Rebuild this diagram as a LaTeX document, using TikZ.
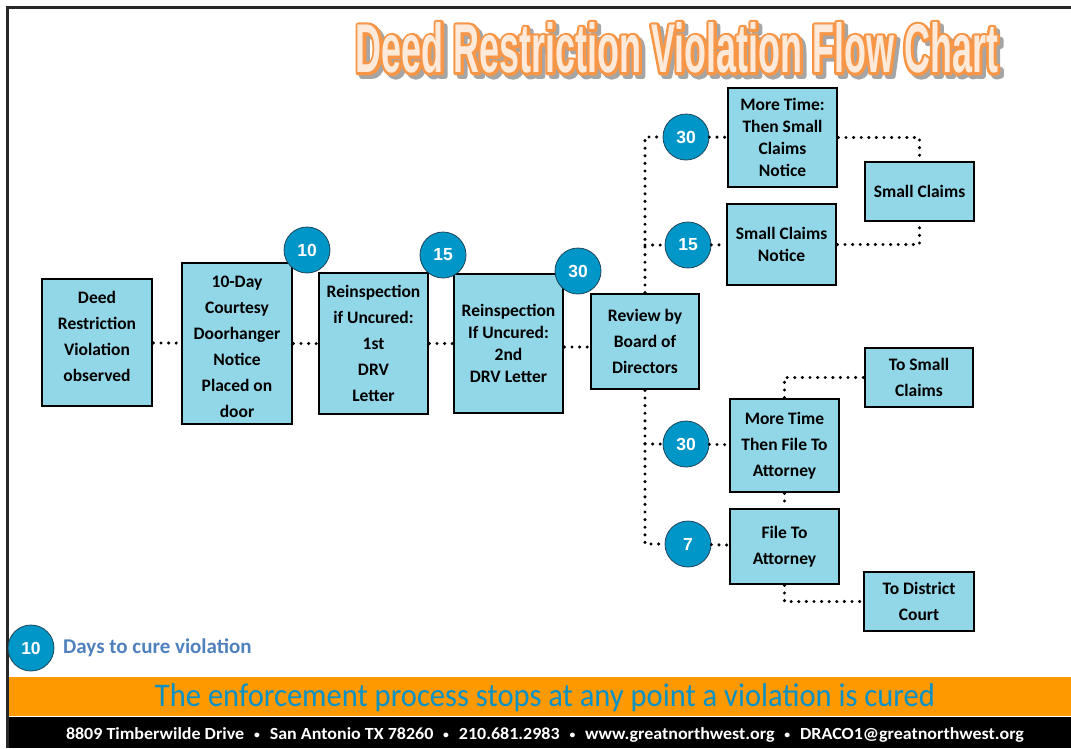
\documentclass[tikz,border=0pt]{standalone}
\usepackage{fontspec}
\usepackage{graphicx}
\setmainfont{Carlito}
\newfontfamily\numfont{Liberation Sans}
\newfontfamily\titlefont[FakeStretch=0.52]{Liberation Sans}
\newfontfamily\titlefontB[FakeStretch=0.52,FakeBold=8]{Liberation Sans}
\definecolor{boxfill}{RGB}{146,215,232}
\definecolor{circfill}{RGB}{0,150,199}
\definecolor{circline}{RGB}{30,70,90}
\definecolor{ttlorange}{RGB}{247,150,70}
\definecolor{ttlfill}{RGB}{253,234,218}
\definecolor{ttlshadow}{RGB}{165,165,165}
\definecolor{barorange}{RGB}{255,153,0}
\definecolor{bartext}{RGB}{10,145,198}
\definecolor{legtext}{RGB}{79,129,189}
\definecolor{framecol}{RGB}{40,40,40}
\newcommand\ttltext[1]{\resizebox{642pt}{!}{#1\bfseries\fontsize{70}{70}\selectfont Deed Restriction Violation Flow Chart}}
\newcommand\adsep{\hspace{0.55em}{\fontsize{11}{11}\selectfont\raisebox{1pt}{•}}\hspace{0.55em}}
\begin{document}
\begin{tikzpicture}[x=1pt,y=-1pt,
  stepbox/.style={draw=black,line width=2.8pt,fill=boxfill,inner sep=0pt,align=center,
    font=\bfseries\fontsize{17.5}{26}\selectfont},
  tight/.style={font=\bfseries\fontsize{17.5}{22}\selectfont},
  days/.style={circle,draw=circline,line width=0.8pt,fill=circfill,minimum size=46pt,inner sep=0pt,
    text=white,font=\numfont\bfseries\fontsize{17.5}{17.5}\selectfont},
  dots/.style={line width=3.4pt,line cap=round,dash pattern=on 0pt off 7.6pt}]
\useasboundingbox (0,0) rectangle (1071,748);
% frame
\draw[framecol,line width=3pt] (7,748) -- (7,7) -- (1071,7);
% title: shadow, orange outline, cream fill
\node[inner sep=0pt,text=ttlshadow] (shadow) at (680.5,51.5) {\special{pdf:literal 1 j}\ttltext{\titlefontB}};
\node[inner sep=0pt,text=ttlorange] (outline) at (677,48) {\special{pdf:literal 1 j}\ttltext{\titlefontB}};
\node[inner sep=0pt,text=ttlfill] (title) at (677,48) {\ttltext{\titlefont}};
% boxes
\node[stepbox,minimum width=110pt,minimum height=127pt] (A) at (97,342.5) {Deed\\Restriction\\Violation\\observed\\[-14pt]\mbox{}};
\node[stepbox,minimum width=110pt,minimum height=161pt] (B) at (237,343.5) {\mbox{}\\[-8pt]10-Day\\Courtesy\\Doorhanger\\Notice\\Placed on\\door};
\node[stepbox,minimum width=109pt,minimum height=141pt] (C) at (373.5,343.5) {Reinspection\\if Uncured:\\1st\\DRV\\Letter};
\node[stepbox,tight,minimum width=109pt,minimum height=139pt] (D) at (508.5,343.5) {Reinspection\\If Uncured:\\2nd\\DRV Letter};
\node[stepbox,minimum width=108pt,minimum height=95pt] (E) at (645,341.5) {Review by\\Board of\\Directors};
\node[stepbox,tight,minimum width=109pt,minimum height=99pt] (F) at (782.5,137.5) {More Time:\\Then Small\\Claims\\Notice};
\node[stepbox,tight,minimum width=109pt,minimum height=81pt] (G) at (781.5,244.5) {Small Claims\\Notice};
\node[stepbox,minimum width=109pt,minimum height=59pt] (H) at (919.5,191.5) {Small Claims};
\node[stepbox,minimum width=108pt,minimum height=59pt] (I) at (919,377.5) {To Small\\Claims};
\node[stepbox,minimum width=109pt,minimum height=93pt] (J) at (784.5,445.5) {More Time\\Then File To\\Attorney};
\node[stepbox,minimum width=109pt,minimum height=75pt] (K) at (784.5,546.5) {File To\\Attorney};
\node[stepbox,minimum width=110pt,minimum height=59pt] (L) at (919,601.5) {To District\\Court};
% day circles
\node[days] (c10) at (307,250) {10};
\node[days] (c15) at (443,255) {15};
\node[days] (c30) at (578,271) {30};
\node[days] (c30a) at (686,137) {30};
\node[days] (c15a) at (688,245) {15};
\node[days] (c30b) at (686,444) {30};
\node[days] (c7) at (688,544) {7};
% connectors
\draw[dots] (A) -- (B);
\draw[dots] (B) -- (C);
\draw[dots] (C) -- (D);
\draw[dots] (D.east |- 0,347) -- (E.west |- 0,347);
\draw[dots] (E.north) |- (c30a);
\draw[dots] (E.north |- c15a) -- (c15a);
\draw[dots] (c30a) -- (F);
\draw[dots] (c15a) -- (G);
\draw[dots] (E.south) |- (c7);
\draw[dots] (E.south |- c30b) -- (c30b);
\draw[dots] (c30b) -- (J);
\draw[dots] (c7) -- (K);
\draw[dots] (F.east) -| (H.north);
\draw[dots] (G.east) -| (H.south);
\draw[dots] (J.north) |- (I.west);
\draw[dots] (J.south) -- (K.north);
\draw[dots] (K.south) |- (L.west);
% legend
\node[days] (leg) at (31,648) {10};
\node[anchor=west,inner sep=0pt,text=legtext,font=\bfseries\fontsize{21}{21}\selectfont] (legt) at (63,648) {Days to cure violation};
% bars
\fill[barorange] (8.5,677) rectangle (1071,716);
\fill[black] (8.5,717) rectangle (1071,748);
\node[inner sep=0pt,text=bartext] (stop) at (545,698) {\resizebox{780pt}{\height}{\fontsize{33}{33}\selectfont The enforcement process stops at any point a violation is cured}};
\node[inner sep=0pt,text=white] (addr) at (545,734.5) {\resizebox{958pt}{\height}{\bfseries\fontsize{17}{17}\selectfont 8809 Timberwilde Drive\adsep San Antonio TX 78260\adsep 210.681.2983\adsep www.greatnorthwest.org\adsep DRACO1@greatnorthwest.org}};
\end{tikzpicture}
\end{document}
